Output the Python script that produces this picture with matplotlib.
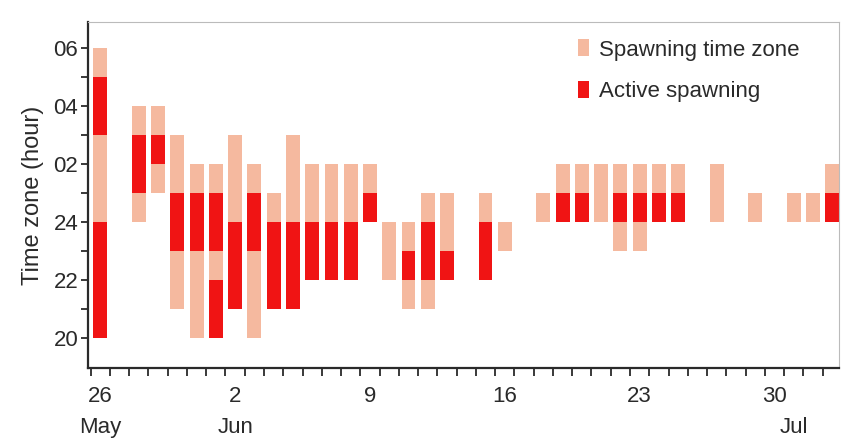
import matplotlib
matplotlib.use('Agg')
import matplotlib.pyplot as plt
import matplotlib.transforms as mtransforms

plt.rcParams['font.family'] = ['Liberation Sans', 'DejaVu Sans']

# Days counted from 26 May
zone_day = [0, 2, 3, 4, 5, 6, 7, 8, 9, 10, 11, 12, 13, 14, 15, 16, 17, 18,
            20, 21, 23, 24, 25, 26, 27, 28, 29, 30, 32, 34, 36, 37, 38]
# hours on a running scale: 24 = midnight, 26 = 02, 28 = 04, 30 = 06
zone_start = [20, 24, 25, 21, 20, 20, 21, 20, 21, 21, 22, 22, 22, 24, 22, 21, 21, 22,
              22, 23, 24, 24, 24, 24, 23, 23, 24, 24, 24, 24, 24, 24, 24]
zone_end = [30, 28, 28, 27, 26, 26, 27, 26, 25, 27, 26, 26, 26, 26, 24, 24, 25, 25,
            25, 24, 25, 26, 26, 26, 26, 26, 26, 26, 26, 25, 25, 25, 26]

active_day = [0, 0, 2, 3, 4, 5, 6, 6, 7, 8, 9, 10, 11, 12, 13, 14, 16, 17, 18,
              20, 24, 25, 27, 28, 29, 30, 38]
active_start = [20, 27, 25, 26, 23, 23, 23, 20, 21, 23, 21, 21, 22, 22, 22, 24, 22, 22, 22,
                22, 24, 24, 24, 24, 24, 24, 24]
active_end = [24, 29, 27, 27, 25, 25, 25, 22, 24, 25, 24, 24, 24, 24, 24, 25, 23, 24, 23,
              24, 25, 25, 25, 25, 25, 25, 25]

y_ticks = [20, 22, 24, 26, 28, 30]
y_labels = ['20', '22', '24', '02', '04', '06']
x_ticks = [0, 7, 14, 21, 28, 35]
x_labels = ['26', '2', '9', '16', '23', '30']
month_pos = [0, 7, 36]
month_names = ['May', 'Jun', 'Jul']

light = '#F5B99F'
red = '#F01414'
txt = '#2a2a2a'

fig = plt.figure(figsize=(8.41, 4.38), dpi=100)
ax = fig.add_axes([0.1046, 0.1598, 0.893, 0.79])

zone_h = [e - s for s, e in zip(zone_start, zone_end)]
act_h = [e - s for s, e in zip(active_start, active_end)]
b1 = ax.bar(zone_day, zone_h, bottom=zone_start, width=0.72, color=light,
            label='Spawning time zone')
b2 = ax.bar(active_day, act_h, bottom=active_start, width=0.72, color=red,
            label='Active spawning')

ax.set_xlim(-0.64, 38.35)
ax.set_ylim(18.95, 30.9)

ax.set_yticks(y_ticks)
ax.set_yticklabels(y_labels)
ax.set_yticks(range(21, 30, 2), minor=True)
ax.tick_params(axis='y', which='both', direction='out', length=5, width=1.3,
               colors=txt, labelsize=16, pad=2)

ax.set_xticks(x_ticks)
ax.set_xticklabels(x_labels)
ax.set_xticks([d - 0.5 for d in range(0, 39)], minor=True)
ax.tick_params(axis='x', which='major', length=0, labelsize=16, colors=txt, pad=13)
ax.tick_params(axis='x', which='minor', direction='out', length=6, width=1.3, colors=txt)

trans = mtransforms.blended_transform_factory(ax.transData, ax.transAxes)
for p, m in zip(month_pos, month_names):
    ax.text(p, -0.1705, m, transform=trans, ha='center', va='center',
            fontsize=16, color=txt)

ax.set_ylabel('Time zone (hour)', fontsize=17, color=txt, labelpad=7)

for s in ['left', 'bottom']:
    ax.spines[s].set_linewidth(1.6)
    ax.spines[s].set_color(txt)
for s in ['top', 'right']:
    ax.spines[s].set_linewidth(0.8)
    ax.spines[s].set_color('#bbbbbb')

ax.legend(handles=[b1, b2], loc='upper left', bbox_to_anchor=(0.638, 0.982),
          frameon=False, fontsize=16, handlelength=0.5, handleheight=0.8,
          handletextpad=0.45, labelspacing=0.9, borderpad=0, labelcolor=txt)

fig.savefig('out.png', dpi=100)
